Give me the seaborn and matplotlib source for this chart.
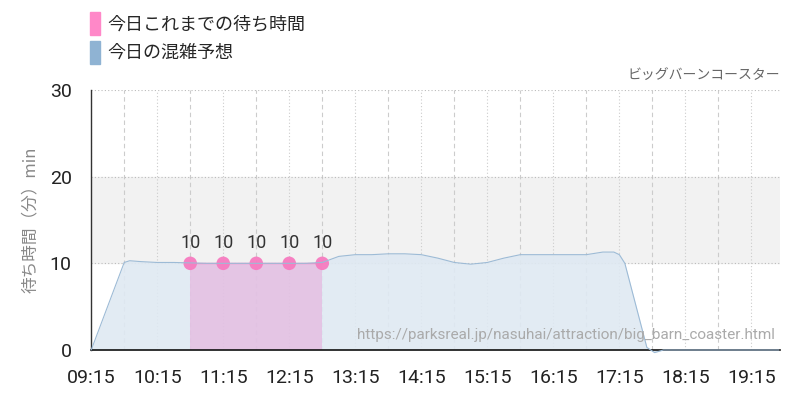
import matplotlib
matplotlib.use("Agg")
import matplotlib.pyplot as plt
import seaborn as sbn
import pandas as pd
from matplotlib.patches import Patch

# 予想 (時刻, 分)
horas_prediccion = ["09:15", "09:45", "09:50", "10:00", "10:15", "10:30", "11:00", "11:30",
                    "12:00", "12:30", "12:45", "13:00", "13:15", "13:30", "13:45", "14:00",
                    "14:15", "14:30", "14:45", "15:00", "15:15", "15:30", "15:45", "16:00",
                    "16:30", "16:45", "17:00", "17:10", "17:15", "17:20", "17:40", "17:47",
                    "17:55", "18:30", "19:40"]
espera_prediccion = [0, 10.1, 10.3, 10.2, 10.1, 10.1, 10.0, 10.0,
                     10.0, 10.0, 10.1, 10.8, 11.0, 11.0, 11.1, 11.1,
                     11.0, 10.6, 10.1, 9.9, 10.1, 10.6, 11.0, 11.0,
                     11.0, 11.0, 11.3, 11.3, 11.0, 10.0, 0.3, -0.3,
                     0, 0, 0]

# 今日これまでの待ち時間
horas_real = ["10:45", "11:15", "11:45", "12:15", "12:45"]
espera_real = [10, 10, 10, 10, 10]

etiquetas_x = ["09:15", "10:15", "11:15", "12:15", "13:15", "14:15",
               "15:15", "16:15", "17:15", "18:15", "19:15"]
etiquetas_y = [0, 10, 20, 30]


def a_minutos(h):
    hh, mm = h.split(":")
    return int(hh) * 60 + int(mm)


pred = pd.DataFrame({"t": [a_minutos(h) for h in horas_prediccion], "espera": espera_prediccion})
real = pd.DataFrame({"t": [a_minutos(h) for h in horas_real], "espera": espera_real})

sbn.set_theme(style = "white")
plt.rcParams["font.family"] = ["Noto Sans CJK JP", "DejaVu Sans"]

fig = plt.figure(figsize = (8, 4), dpi = 100)
ax = fig.add_axes([0.114, 0.125, 0.861, 0.65])

x_min, x_max = a_minutos("09:15"), a_minutos("19:41")
ax.set_xlim(x_min, x_max)
ax.set_ylim(0, 30)

# banda 10-20
ax.axhspan(10, 20, color = "#f2f2f2", zorder = 0)

# grilla
for t in range(x_min, x_max + 1, 30):
    es_hora = (t - x_min) % 60 == 0
    ax.axvline(t, color = "#cccccc", lw = 0.8, zorder = 1,
               ls = (0, (1, 2)) if es_hora else (0, (4, 3)))
for v in etiquetas_y[1:]:
    ax.axhline(v, color = "#bbbbbb", lw = 0.8, ls = (0, (1, 2)), zorder = 1)

# predicción
ax.fill_between(pred["t"], pred["espera"], 0, color = "#dfe9f2", alpha = 0.9, lw = 0,
                zorder = 2, clip_on = False)
sbn.lineplot(data = pred, x = "t", y = "espera", ax = ax, color = "#9dbbd6", lw = 0.8,
             zorder = 8, clip_on = False)

# real
ax.fill_between(real["t"], real["espera"], 0, color = "#e6a6d8", alpha = 0.55, lw = 0, zorder = 4)
sbn.lineplot(data = real, x = "t", y = "espera", ax = ax, color = "#ff88c8", lw = 1, zorder = 5)
sbn.scatterplot(data = real, x = "t", y = "espera", ax = ax, color = "#f77bc0",
                s = 95, edgecolor = "none", alpha = 0.95, zorder = 6)
for t, v in zip(real["t"], real["espera"]):
    ax.annotate(str(v), (t, v), xytext = (0, 8), textcoords = "offset points",
                ha = "center", va = "bottom", fontsize = 13, color = "#333333",
                family = ["Roboto", "DejaVu Sans"])

ax.set_xticks([a_minutos(h) for h in etiquetas_x])
ax.set_xticklabels(etiquetas_x)
ax.set_yticks(etiquetas_y)
ax.set_yticklabels([str(v) for v in etiquetas_y])
ax.tick_params(axis = "both", length = 11, color = "#cccccc", width = 0.8,
               labelsize = 14, labelcolor = "#222222", pad = 3)
for lab in ax.get_xticklabels() + ax.get_yticklabels():
    lab.set_family(["Roboto", "DejaVu Sans"])
ax.set_xlabel("")
ax.set_ylabel("待ち時間（分）min", color = "#888888", fontsize = 12, labelpad = 8)

for lado in ["top", "right"]:
    ax.spines[lado].set_visible(False)
ax.spines["left"].set_color("#333333")
ax.spines["left"].set_linewidth(1)
ax.spines["bottom"].set_color("#111111")
ax.spines["bottom"].set_linewidth(1.2)
ax.spines["bottom"].set_zorder(7)

# textos
fig.text(0.975, 0.795, "ビッグバーンコースター", ha = "right", va = "bottom",
         fontsize = 10, color = "#666666")
ax.text(0.993, 0.03, "https://parksreal.jp/nasuhai/attraction/big_barn_coaster.html",
        transform = ax.transAxes, ha = "right", va = "bottom", fontsize = 11,
        color = "#aaaaaa", family = ["Roboto", "DejaVu Sans"], zorder = 9)

manejadores = [Patch(color = "#ff88c8", label = "今日これまでの待ち時間"),
               Patch(color = "#8fb3d3", label = "今日の混雑予想")]
fig.legend(handles = manejadores, loc = "upper left", bbox_to_anchor = (0.112, 0.97),
           frameon = False, fontsize = 13, handlelength = 0.55, handleheight = 1.6,
           handletextpad = 0.45, labelspacing = 0.3, borderaxespad = 0, borderpad = 0)

fig.savefig("out.png", dpi = 100)
